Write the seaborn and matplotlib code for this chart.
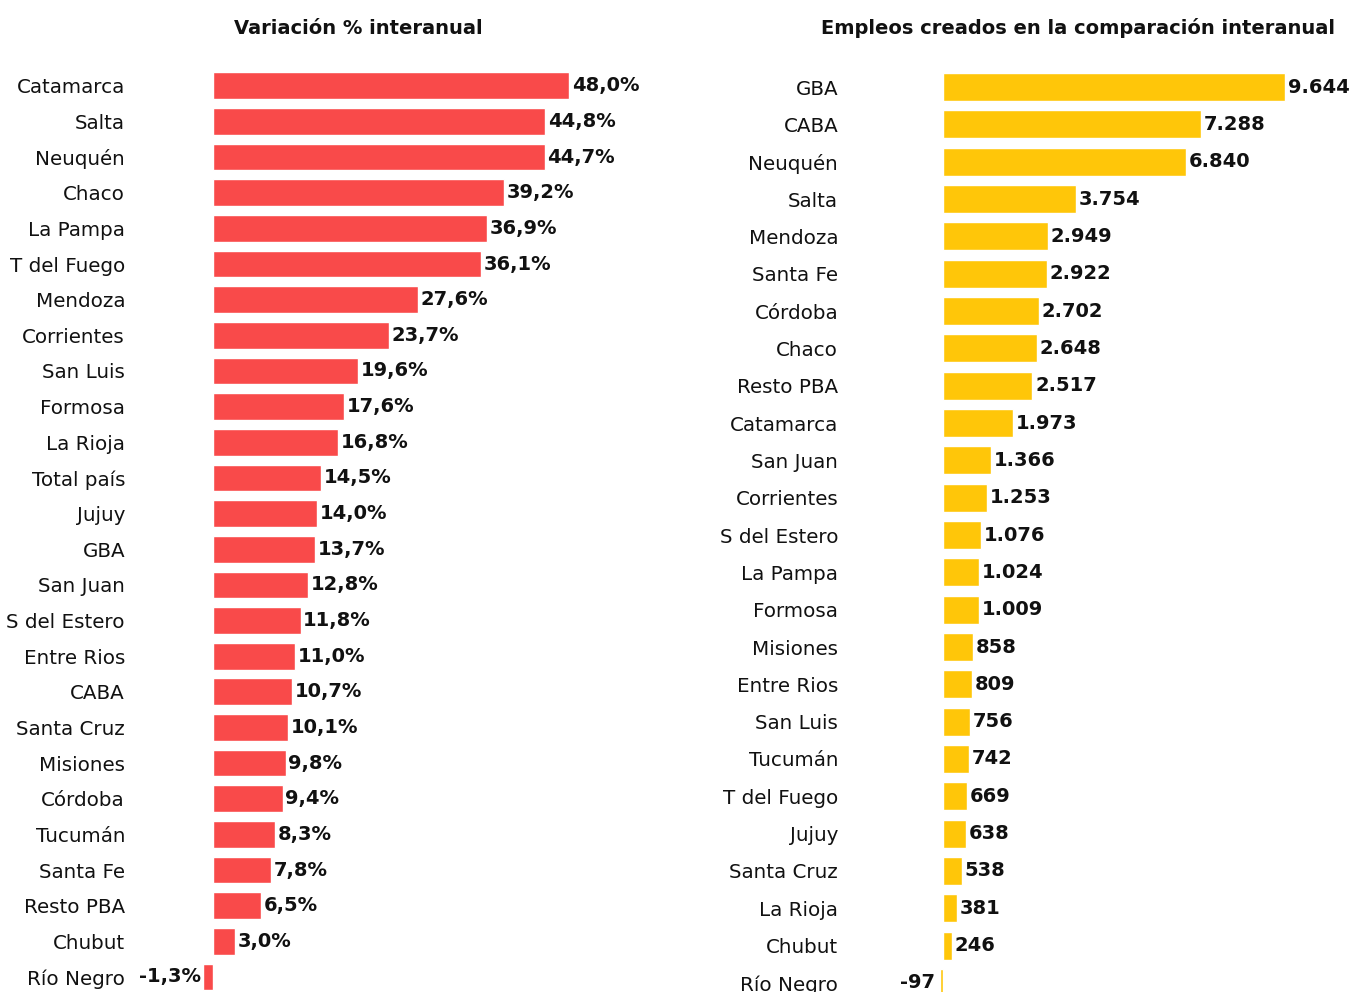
import matplotlib
matplotlib.use("Agg")
import matplotlib.pyplot as plt
import seaborn as sns
import pandas as pd

sns.set_theme(style="white")
plt.rcParams['font.family'] = ['DejaVu Sans']

# Left chart data: variación % interanual
left_cats = ["Catamarca", "Salta", "Neuquén", "Chaco", "La Pampa", "T del Fuego", "Mendoza",
             "Corrientes", "San Luis", "Formosa", "La Rioja", "Total país", "Jujuy", "GBA",
             "San Juan", "S del Estero", "Entre Rios", "CABA", "Santa Cruz", "Misiones",
             "Córdoba", "Tucumán", "Santa Fe", "Resto PBA", "Chubut", "Río Negro"]
left_vals = [48.0, 44.8, 44.7, 39.2, 36.9, 36.1, 27.6, 23.7, 19.6, 17.6, 16.8, 14.5, 14.0, 13.7,
             12.8, 11.8, 11.0, 10.7, 10.1, 9.8, 9.4, 8.3, 7.8, 6.5, 3.0, -1.3]

# Right chart data: empleos creados
right_cats = ["GBA", "CABA", "Neuquén", "Salta", "Mendoza", "Santa Fe", "Córdoba", "Chaco",
              "Resto PBA", "Catamarca", "San Juan", "Corrientes", "S del Estero", "La Pampa",
              "Formosa", "Misiones", "Entre Rios", "San Luis", "Tucumán", "T del Fuego", "Jujuy",
              "Santa Cruz", "La Rioja", "Chubut", "Río Negro"]
right_vals = [9644, 7288, 6840, 3754, 2949, 2922, 2702, 2648, 2517, 1973, 1366, 1253, 1076, 1024,
              1009, 858, 809, 756, 742, 669, 638, 538, 381, 246, -97]

RED = "#F94A4A"
YELLOW = "#FFC609"
W, H = 1351, 992

fig = plt.figure(figsize=(W / 100, H / 100), dpi=100)
fig.patch.set_facecolor("white")

def px_axes(left, top, right, bottom):
    return fig.add_axes([left / W, 1 - bottom / H, (right - left) / W, (bottom - top) / H])

VAL_FS = 14
LAB_FS = 14.3

# ---- Left ----
axl = px_axes(200, 68, 680, 992)
dfl = pd.DataFrame({"cat": left_cats, "val": left_vals})
sns.barplot(data=dfl, x="val", y="cat", color=RED, width=0.75, ax=axl, saturation=1)
axl.set_xlim(-13 / 7.417, 480 / 7.417 - 13 / 7.417)
axl.set_ylim(25 + 15 / 35.64, -0.5)
for i, v in enumerate(left_vals):
    txt = f"{v:.1f}%".replace(".", ",")
    if v >= 0:
        axl.annotate(txt, (v, i), xytext=(2, 0), textcoords="offset points", ha="left",
                     va="center", fontsize=VAL_FS, fontweight="bold", color="#111111")
    else:
        axl.annotate(txt, (v, i), xytext=(-2, 0), textcoords="offset points", ha="right",
                     va="center", fontsize=VAL_FS, fontweight="bold", color="#111111")

# ---- Right ----
axr = px_axes(900, 68, 1351, 992)
dfr = pd.DataFrame({"cat": right_cats, "val": right_vals})
sns.barplot(data=dfr, x="val", y="cat", color=YELLOW, width=0.75, ax=axr, saturation=1)
k = 342 / 9644
axr.set_xlim(-43 / k, 408 / k)
axr.set_ylim(24 + 9 / 37.33, -19 / 37.33)
for i, v in enumerate(right_vals):
    txt = f"{v:,}".replace(",", ".")
    if v >= 0:
        axr.annotate(txt, (v, i), xytext=(2, 0), textcoords="offset points", ha="left",
                     va="center", fontsize=VAL_FS, fontweight="bold", color="#111111")
    else:
        axr.annotate(txt, (v, i), xytext=(-3, 0), textcoords="offset points", ha="right",
                     va="center", fontsize=VAL_FS, fontweight="bold", color="#111111")

for ax, pad in ((axl, 54), (axr, 44.5)):
    ax.set_xlabel("")
    ax.set_ylabel("")
    ax.set_xticks([])
    for s in ax.spines.values():
        s.set_visible(False)
    ax.tick_params(axis="y", length=0, pad=pad, labelsize=LAB_FS, labelcolor="#111111")
    ax.set_facecolor("none")

fig.text(358 / W, 1 - 28 / H, "Variación % interanual", ha="center", va="center",
         fontsize=14, fontweight="bold", color="#111111")
fig.text(1078 / W, 1 - 28 / H, "Empleos creados en la comparación interanual", ha="center",
         va="center", fontsize=14, fontweight="bold", color="#111111")

fig.savefig("out.png", dpi=100, facecolor="white")
